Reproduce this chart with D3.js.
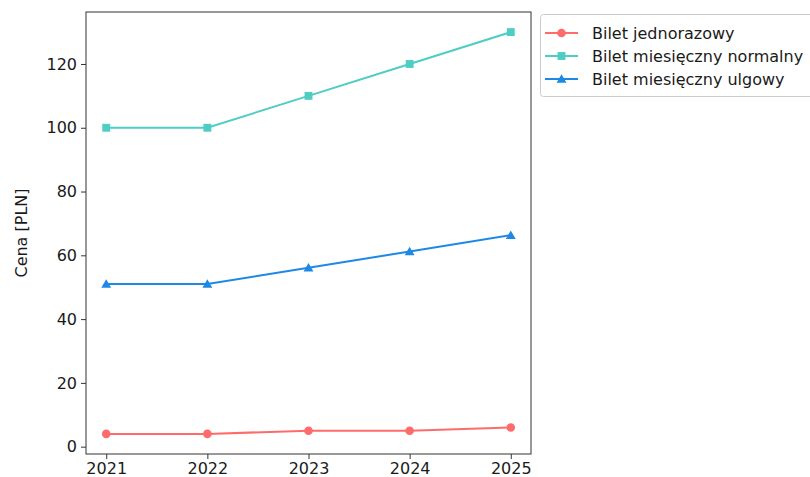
<!DOCTYPE html>
<html><head><meta charset="utf-8">
<script src="https://cdn.jsdelivr.net/npm/d3@7"></script>
<style>body{margin:0;background:#fff}text{font-family:"DejaVu Sans",sans-serif}</style>
</head><body>
<svg id="c" width="810" height="477"></svg>
<script>
const years = [2021, 2022, 2023, 2024, 2025];
const jednorazowy = [4, 4, 5, 5, 6];
const normalny = [100, 100, 110, 120, 130];
const ulgowy = [51, 51, 56.1, 61.2, 66.3];
const seriesNames = ["Bilet jednorazowy", "Bilet miesięczny normalny", "Bilet miesięczny ulgowy"];
const colors = ["#FF6B6B", "#4ECDC4", "#1E88E5"];
const markers = ["circle", "square", "triangle"];
const yTicks = [0, 20, 40, 60, 80, 100, 120];
const yLabel = "Cena [PLN]";

const svg = d3.select("#c");
const L = 86, R = 531, T = 12, B = 454;
const FS = 16;
const x = d3.scaleLinear().domain([2020.8, 2025.2]).range([L, R]);
const y = d3.scaleLinear().domain([-2.3, 136.3]).range([B, T]);

const data = [jednorazowy, normalny, ulgowy];
const symTypes = {circle: d3.symbolCircle, square: d3.symbolSquare, triangle: d3.symbolTriangle};
const symSizes = {circle: 58, square: 62, triangle: 42};

data.forEach((vals, i) => {
  const pts = years.map((yr, j) => [yr, vals[j]]);
  svg.append("path").datum(pts)
    .attr("fill", "none").attr("stroke", colors[i]).attr("stroke-width", 2)
    .attr("d", d3.line().x(d => x(d[0])).y(d => y(d[1])));
  svg.selectAll(null).data(pts).enter().append("path")
    .attr("transform", d => `translate(${x(d[0])},${y(d[1]) + (markers[i]==="triangle"?1:0)})`)
    .attr("d", d3.symbol().type(symTypes[markers[i]]).size(symSizes[markers[i]]))
    .attr("fill", colors[i]);
});

const xAxis = svg.append("g").attr("transform", `translate(0,${B})`)
  .call(d3.axisBottom(x).tickValues(years).tickFormat(d3.format("d")).tickSize(5).tickPadding(4));
const yAxis = svg.append("g").attr("transform", `translate(${L},0)`)
  .call(d3.axisLeft(y).tickValues(yTicks).tickSize(5).tickPadding(4));
[xAxis, yAxis].forEach(g => {
  g.select(".domain").remove();
  g.selectAll("text").attr("font-size", FS).attr("fill", "#1a1a1a").style("font-family", "DejaVu Sans");
  g.selectAll("line").attr("stroke", "#333");
});
svg.append("rect").attr("x", L).attr("y", T).attr("width", R - L).attr("height", B - T)
  .attr("fill", "none").attr("stroke", "#333").attr("stroke-width", 1);

svg.append("text").attr("transform", `translate(27,${(T + B) / 2}) rotate(-90)`)
  .attr("text-anchor", "middle").attr("font-size", FS).attr("fill", "#1a1a1a").text(yLabel);

const lg = svg.append("g");
lg.append("rect").attr("x", 540.5).attr("y", 14.5).attr("width", 280).attr("height", 82)
  .attr("rx", 3).attr("fill", "#fff").attr("stroke", "#ccc");
seriesNames.forEach((n, i) => {
  const yy = 33 + i * 23;
  lg.append("line").attr("x1", 545).attr("x2", 578).attr("y1", yy).attr("y2", yy)
    .attr("stroke", colors[i]).attr("stroke-width", 2);
  lg.append("path").attr("transform", `translate(561.5,${yy + (markers[i]==="triangle"?1:0)})`)
    .attr("d", d3.symbol().type(symTypes[markers[i]]).size(symSizes[markers[i]])).attr("fill", colors[i]);
  lg.append("text").attr("x", 592).attr("y", yy + 6).attr("font-size", FS).attr("fill", "#1a1a1a").text(n);
});
</script>
</body></html>
